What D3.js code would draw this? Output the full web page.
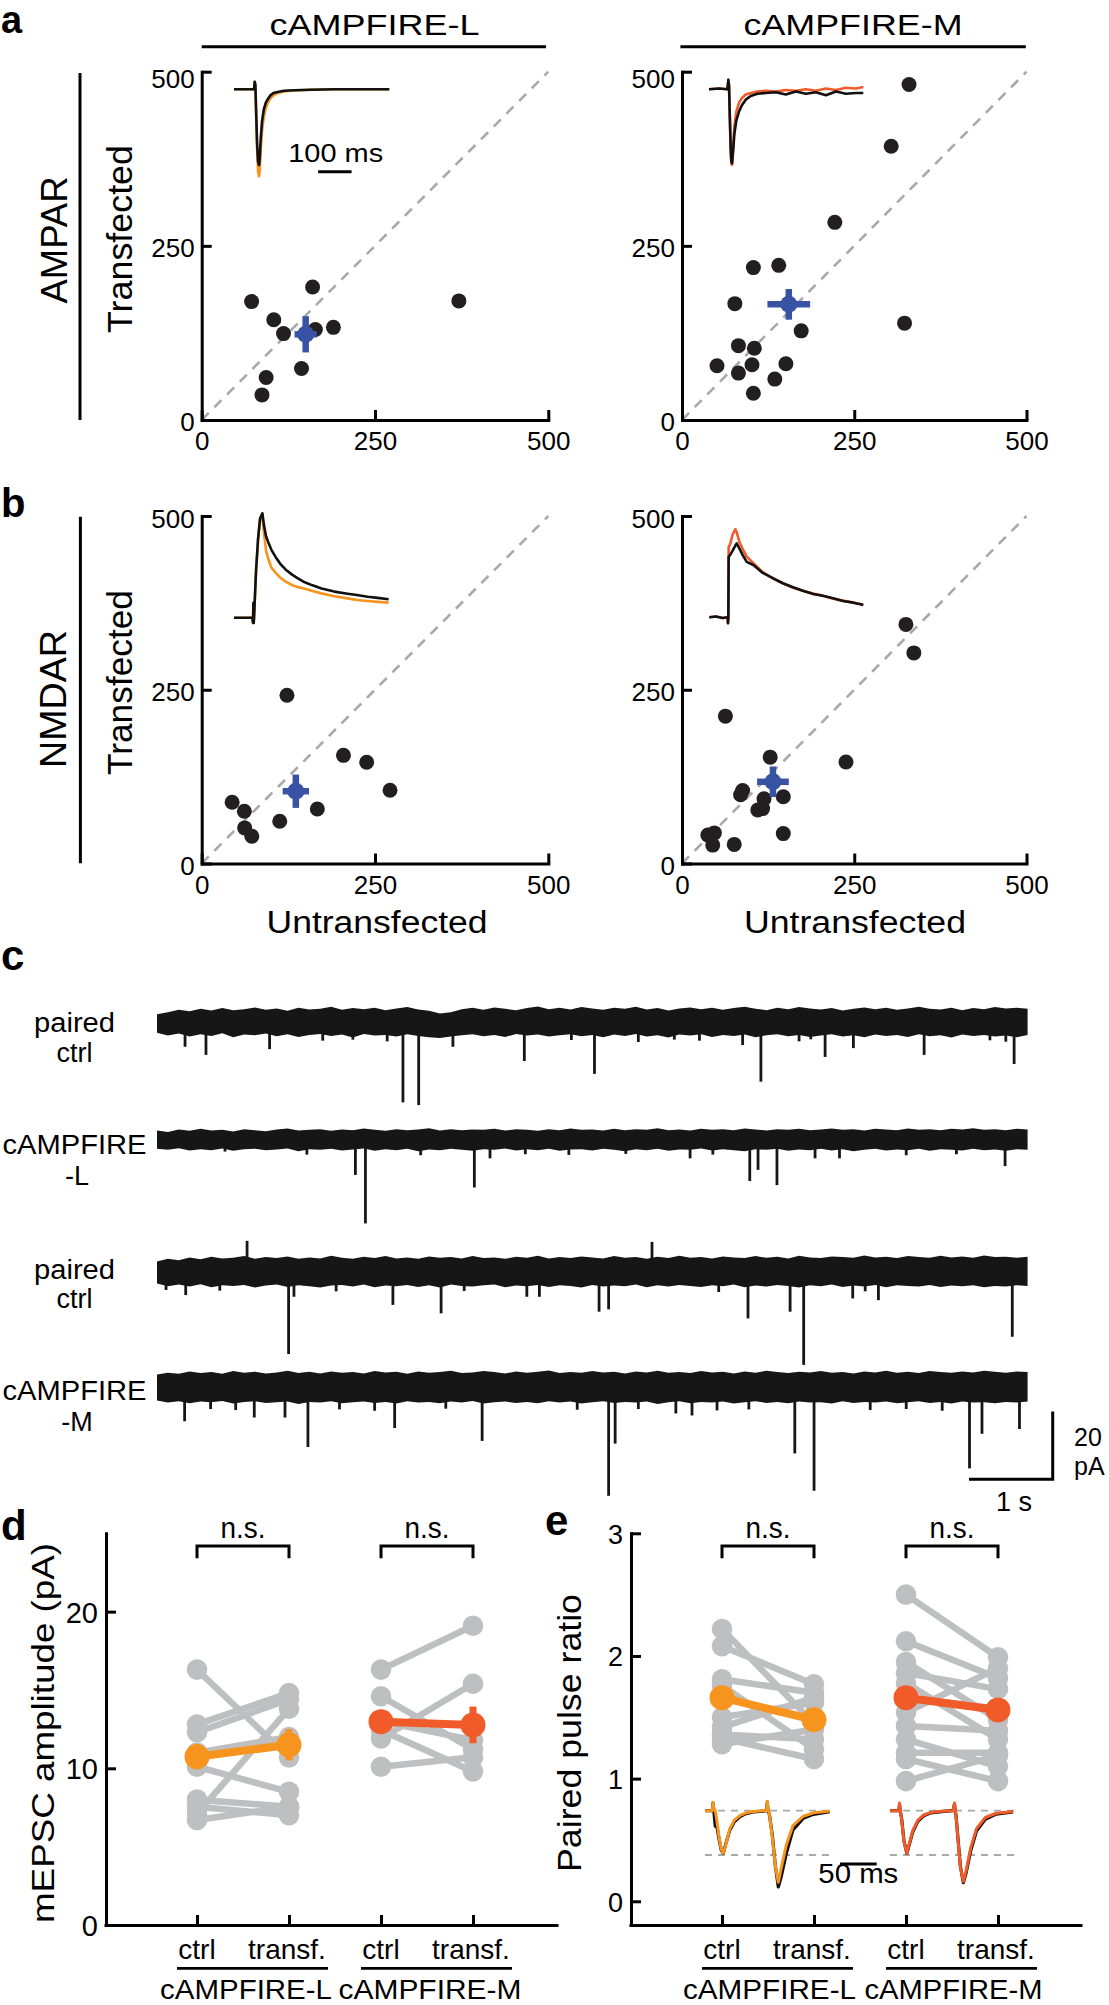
<!DOCTYPE html>
<html><head><meta charset="utf-8">
<script src="https://cdn.jsdelivr.net/npm/d3@7"></script>
<style>
body{margin:0;background:#fff}
svg{display:block}
text{font-family:"Liberation Sans",Arial,Helvetica,sans-serif;fill:#000}
</style>
</head><body>
<svg id="fig" width="1109" height="2005"></svg>
<script>
// ---------------- DATA ----------------
const scatterTicks = [0, 250, 500];
const groups = ["cAMPFIRE-L", "cAMPFIRE-M"];
const rowLabels = ["AMPAR", "NMDAR"];

// panel a (AMPAR) : untransfected (x) vs transfected (y)
const ampaL_x = [72, 160, 104, 118, 164, 190, 144, 93, 87, 371];
const ampaL_y = [170, 191, 144, 124, 130, 133, 74, 61, 36, 171];
const ampaL_mean = [150, 123], ampaL_err = [16, 26];
const ampaM_x = [329.5, 303.6, 221.8, 103.6, 140.4, 76.7, 173, 323, 81.9, 105, 50.8, 101.6, 150.8, 81.9, 134.7, 103.6];
const ampaM_y = [481.7, 393, 283.7, 218.8, 222, 167, 128, 139, 106.7, 103, 77.9, 79.3, 80.8, 67.3, 58.7, 38.5];
const ampaM_mean = [155, 166], ampaM_err = [31, 22];
// panel b (NMDAR)
const nmdaL_x = [123, 204.5, 238, 271.7, 43.9, 61.5, 166.8, 112.6, 62, 72.3];
const nmdaL_y = [242, 155.6, 145.6, 105.4, 88.1, 75.2, 78.5, 60.8, 51.2, 39.3];
const nmdaL_mean = [135.8, 104], nmdaL_err = [19, 24];
const nmdaM_x = [325, 336.5, 63, 128, 238, 88, 85, 119, 147, 110, 117, 147, 37.5, 47, 44.6, 75.8];
const nmdaM_y = [344, 303, 212, 153, 146, 105, 99, 93, 96, 77, 79, 43, 41, 44, 26.5, 27.5];
const nmdaM_mean = [132, 117.6], nmdaM_err = [23, 22];

// inset average traces (time in ms, normalized current)
const aL_t = [0,40,60,62,64,66,69,72,75,77,80,84,89,95,101,109,118,130,150,180,230,300,400,465];
const aL_black = [0,0,0,0.1,0.06,-0.25,-0.7,-0.95,-1.0,-0.92,-0.65,-0.42,-0.27,-0.18,-0.13,-0.08,-0.05,-0.035,-0.02,-0.012,-0.005,0,0,0];
const aL_col = [0,0,0,0.1,0.06,-0.28,-0.78,-1.08,-1.15,-1.08,-0.8,-0.55,-0.37,-0.25,-0.18,-0.12,-0.08,-0.05,-0.03,-0.015,-0.006,0,0,0];
const aR_t = [0,30,55,58,60,62,65,67,69,72,76,82,90,98,110,125,145,170,200,230,260,290,320,350,380,410,440,462];
const aR_black = [0,0.01,0,0.13,0.05,-0.3,-0.8,-0.98,-1.0,-0.85,-0.6,-0.42,-0.3,-0.22,-0.14,-0.09,-0.06,-0.05,-0.04,-0.07,-0.03,-0.06,-0.04,-0.08,-0.03,-0.06,-0.05,-0.05];
const aR_col = [0,0.01,0,0.1,0.05,-0.35,-0.85,-1.0,-1.02,-0.8,-0.5,-0.3,-0.18,-0.12,-0.07,-0.05,-0.03,-0.02,-0.03,-0.01,-0.02,0,-0.02,0.01,-0.01,0.02,0.01,0.03];
const bL_t = [0,30,55,57,58,59,60,62,66,72,78,85,90,96,104,112,125,140,155,175,190,208,235,262,300,340,368,400,430,463];
const bL_black = [0,0,0,-0.05,0.14,-0.05,0,0.15,0.45,0.75,0.95,1.0,0.88,0.78,0.71,0.65,0.58,0.51,0.46,0.41,0.38,0.345,0.31,0.28,0.25,0.23,0.217,0.2,0.19,0.177];
const bL_col = [0,0,0,-0.05,0.14,-0.05,0,0.15,0.45,0.75,0.95,0.98,0.8,0.64,0.55,0.48,0.43,0.38,0.345,0.31,0.295,0.281,0.255,0.233,0.205,0.185,0.17,0.16,0.152,0.144];
const bR_t = [0,20,40,55,56,57,58,62,70,78,82,90,100,112,132,160,192,220,251,280,311,340,371,400,431,450,461];
const bR_black = [0,0.01,-0.01,0,-0.08,0,0.82,0.84,0.9,0.97,1.0,0.93,0.84,0.75,0.707,0.6,0.527,0.46,0.405,0.36,0.315,0.29,0.257,0.22,0.198,0.18,0.166];
const bR_col = [0,0.01,-0.01,0,-0.08,0,0.95,0.98,1.12,1.19,1.15,1.02,0.92,0.82,0.73,0.61,0.52,0.46,0.4,0.36,0.32,0.29,0.25,0.225,0.2,0.18,0.168];

// panel c : mEPSC recordings (noise envelope, evenly sampled over 10.4 s, pA; events: time s, amplitude pA)
const traceLabels = [["paired","ctrl"],["cAMPFIRE","-L"],["paired","ctrl"],["cAMPFIRE","-M"]];
const T1top = [2.0,2.6,3.3,2.9,3.6,3.1,3.8,3.2,3.5,4.0,3.3,3.7,3.0,3.9,3.4,3.6,4.2,3.3,3.8,3.5,3.9,3.2,3.7,4.1,3.4,3.0,2.2,2.6,3.5,3.9,3.3,4.0,3.6,3.2,3.8,4.3,3.5,3.9,3.4,4.1,3.7,3.3,3.9,3.6,4.2,3.4,3.8,3.1,3.7,4.0,3.5,3.9,3.3,3.8,4.2,3.6,3.2,3.9,3.5,4.1,3.7,3.4,3.8,3.1,3.6,4.0,3.5,3.9,3.3,3.7,4.2,3.6,3.4,3.9,3.2,3.8,3.5,4.1,3.7,3.9,3.6];
const T1bot = [-3.5,-4.3,-3.7,-4.6,-3.9,-4.4,-3.6,-4.8,-4.0,-4.2,-3.7,-4.5,-3.9,-4.7,-4.1,-3.8,-4.4,-4.0,-4.9,-3.8,-4.3,-4.1,-4.6,-3.9,-4.4,-4.8,-5.0,-4.6,-4.2,-3.9,-4.5,-4.1,-4.7,-3.8,-4.3,-4.0,-4.6,-4.2,-3.9,-4.5,-4.1,-4.8,-4.0,-4.4,-3.8,-4.6,-4.2,-4.9,-4.0,-4.3,-3.9,-4.7,-4.1,-4.4,-4.0,-4.8,-4.2,-3.9,-4.5,-4.1,-4.7,-4.3,-3.9,-4.6,-4.2,-4.8,-4.0,-4.4,-4.1,-4.7,-3.9,-4.5,-4.2,-4.9,-4.0,-4.4,-4.1,-4.6,-4.3,-4.8,-4.1];
const T2top = [2.5,2.1,2.8,2.4,3.0,2.5,2.7,2.2,2.9,2.6,2.3,2.8,3.1,2.5,2.7,2.9,2.4,2.8,2.6,3.1,2.7,2.4,2.9,2.6,2.8,3.2,2.5,2.9,2.6,2.8,2.7,3.0,2.5,2.9,2.7,2.4,2.9,2.6,3.1,2.7,2.8,2.5,3.0,2.6,2.9,2.7,3.2,2.6,2.8,2.5,3.0,2.7,2.9,2.6,3.1,2.8,2.5,2.9,2.7,3.0,2.6,2.8,3.1,2.7,2.9,2.5,3.0,2.8,2.6,3.1,2.7,2.9,2.6,3.0,2.8,3.2,2.7,2.9,2.6,3.0,2.8];
const T2bot = [-2.9,-3.2,-2.7,-3.4,-3.0,-3.3,-2.8,-3.5,-3.0,-2.9,-3.3,-3.1,-2.8,-3.6,-3.0,-3.2,-2.9,-3.4,-3.1,-2.8,-3.5,-3.0,-3.3,-2.9,-3.6,-3.1,-3.3,-2.9,-3.2,-3.5,-3.0,-3.2,-2.8,-3.4,-3.0,-3.3,-2.9,-3.5,-3.1,-3.0,-3.4,-2.9,-3.2,-3.6,-3.0,-3.3,-2.9,-3.5,-3.1,-3.2,-2.8,-3.4,-3.0,-3.3,-3.6,-3.0,-3.2,-2.9,-3.5,-3.1,-3.3,-2.9,-3.4,-3.0,-3.6,-3.2,-2.9,-3.4,-3.1,-3.3,-2.9,-3.5,-3.0,-3.2,-3.4,-2.9,-3.3,-3.1,-3.5,-3.0,-3.2];
const T3top = [2.8,3.6,3.2,4.0,3.5,4.2,3.7,3.9,4.4,3.6,4.1,3.8,4.3,3.6,4.0,3.7,4.5,3.9,3.6,4.2,3.8,4.4,3.7,4.0,3.6,4.3,3.9,4.1,3.7,4.4,3.8,4.0,3.6,4.2,3.9,4.5,3.7,4.1,3.8,4.3,4.0,3.7,4.4,3.9,4.1,3.6,4.2,3.8,4.5,3.9,4.1,3.7,4.3,4.0,3.8,4.4,3.9,4.2,3.7,4.5,4.0,3.8,4.3,4.1,3.9,4.6,4.0,4.2,3.8,4.4,4.1,3.9,4.5,4.0,4.3,3.9,4.6,4.1,4.2,3.9,4.2];
const T3bot = [-3.7,-4.5,-4.0,-4.6,-3.9,-4.8,-4.2,-4.4,-4.1,-4.9,-4.3,-4.0,-4.7,-4.2,-4.5,-4.9,-4.3,-4.1,-4.6,-4.0,-4.8,-4.3,-4.5,-4.1,-4.7,-4.2,-4.9,-4.0,-4.4,-4.6,-4.2,-4.0,-4.8,-4.3,-4.5,-4.1,-4.7,-4.2,-4.4,-4.9,-4.1,-4.6,-4.3,-4.5,-4.0,-4.8,-4.2,-4.6,-4.1,-4.4,-4.7,-4.2,-4.5,-4.0,-4.8,-4.3,-4.6,-4.1,-4.4,-4.9,-4.2,-4.5,-4.0,-4.7,-4.3,-4.6,-4.1,-4.8,-4.2,-4.4,-4.6,-4.1,-4.7,-4.3,-4.5,-4.2,-4.8,-4.4,-4.6,-4.2,-4.4];
const T4top = [3.7,4.2,3.9,4.6,4.1,4.4,3.9,4.7,4.2,4.5,4.0,4.3,4.8,4.1,4.5,4.0,4.6,4.2,4.4,4.0,4.7,4.3,4.5,3.9,4.6,4.2,4.4,4.8,4.1,4.3,4.7,4.4,4.0,4.6,4.2,4.5,4.9,4.1,4.4,4.2,4.7,4.3,4.5,4.0,4.6,4.3,4.8,4.2,4.4,4.1,4.7,4.3,4.5,4.0,4.6,4.2,4.8,4.4,4.1,4.5,4.3,4.7,4.2,4.4,4.0,4.6,4.3,4.8,4.2,4.5,4.1,4.7,4.4,4.2,4.6,4.3,4.8,4.5,4.2,4.6,4.4];
const T4bot = [-4.0,-4.6,-4.2,-4.8,-4.3,-4.5,-4.1,-4.9,-4.4,-4.2,-4.7,-4.5,-4.3,-5.0,-4.4,-4.6,-4.2,-4.8,-4.5,-4.3,-4.7,-4.4,-4.9,-4.2,-4.6,-4.4,-4.8,-4.3,-4.6,-4.1,-4.9,-4.5,-4.3,-4.7,-4.4,-4.8,-4.2,-4.6,-4.3,-4.9,-4.5,-4.2,-4.7,-4.4,-4.6,-4.3,-5.0,-4.5,-4.2,-4.8,-4.4,-4.6,-4.3,-4.9,-4.5,-4.2,-4.7,-4.4,-4.8,-4.3,-4.6,-4.5,-4.9,-4.2,-4.7,-4.4,-4.6,-4.3,-4.8,-4.5,-4.2,-4.7,-4.4,-4.9,-4.3,-4.6,-4.5,-4.8,-4.4,-4.6,-4.3];
const T1evT = [0.335,0.585,1.345,1.98,2.34,2.75,2.938,3.126,3.535,4.388,4.95,5.226,5.75,6.18,6.48,6.996,7.214,7.67,7.81,7.981,8.319,9.164,9.95,10.14,10.239];
const T1evA = [7.6,10.0,8.3,5.8,5.5,6.0,24.0,24.8,7.6,11.8,5.6,15.6,6.2,5.5,5.8,7.1,17.9,6.0,5.4,10.6,8.0,10.0,5.7,6.1,12.7];
const T2evT = [0.812,1.79,2.370,2.490,3.15,3.791,3.978,4.40,4.92,5.6,6.368,6.64,7.081,7.180,7.406,7.861,8.153,8.95,9.55,10.131];
const T2evA = [3.7,4.6,10.6,24.9,4.8,14.3,5.7,4.5,4.7,4.4,5.7,4.6,12.4,9.1,13.6,5.7,5.7,4.8,4.5,8.0];
const T3evT = [0.108,0.343,0.75,1.076,1.572,1.636,2.14,2.818,3.394,3.67,4.418,4.568,5.281,5.395,5.913,6.71,7.060,7.563,7.725,8.311,8.46,8.618,10.217];
const T3evA = [5.6,7.1,5.8,-8.9,24.5,7.6,6.0,10.0,12.5,5.9,7.6,7.6,12.0,11.3,-8.6,6.2,14.0,12.0,27.7,8.1,6.0,8.6,19.4];
const T4evT = [0.330,0.64,0.94,1.162,1.529,1.803,2.18,2.6,2.839,3.45,3.884,5.02,5.395,5.473,5.75,6.198,6.391,6.69,7.07,7.619,7.849,8.52,8.95,9.38,9.706,9.855,10.303];
const T4evA = [10.1,6.5,6.8,9.0,9.0,17.7,6.6,7.0,12.1,6.4,15.9,6.7,32.1,16.7,6.5,7.8,8.4,6.9,6.6,19.6,30.6,6.8,6.5,7.0,24.0,13.8,12.4];

// panel d : mEPSC amplitude (pA)
const catLabels = ["ctrl", "transf."];
const dTicks = [0, 10, 20];
const dL_ctrl = [16.3, 12.8, 12.3, 11.0, 10.1, 8.0, 7.55, 7.1, 6.7];
const dL_tr   = [10.7, 14.8, 14.4, 12.0, 8.5, 7.55, 7.0, 13.8, 7.55];
const dM_ctrl = [16.3, 14.6, 13.0, 12.45, 11.9, 10.1];
const dM_tr   = [19.1, 11.2, 11.8, 9.8, 15.4, 10.7];
const dMeans = [[10.74, 11.5], [12.98, 12.77]];
const dErrs  = [[0.8, 1.0], [0.5, 1.17]];
// panel e : paired pulse ratio
const eTicks = [0, 1, 2, 3];
const eL_ctrl = [2.22, 2.08, 1.81, 1.76, 1.50, 1.42, 1.36, 1.28, 1.33];
const eL_tr   = [1.45, 1.77, 1.70, 1.24, 1.62, 1.66, 1.32, 1.40, 1.16];
const eM_ctrl = [2.50, 2.12, 1.95, 1.86, 1.78, 1.54, 1.43, 1.32, 1.21, 1.16, 0.98, 1.66];
const eM_tr   = [1.99, 1.82, 1.48, 1.73, 1.32, 1.90, 1.39, 1.10, 1.21, 0.98, 1.19, 1.57];
const eMeans = [[1.66, 1.48], [1.66, 1.56]];
const eErrs  = [[0.07, 0.06], [0.08, 0.06]];
// paired-pulse inset traces (ms, normalized)
const eL_t = [0,10,11,12,14,16,19,22,25,28,34,40,48,56,66,80,84,85,86,88,92,96,100,104,111,120,134,148,170];
const eL_black = [0,0,0.18,0,-0.37,-0.35,-0.65,-0.92,-1.0,-0.8,-0.45,-0.26,-0.14,-0.07,-0.03,-0.01,0,0.2,0,-0.1,-0.6,-1.3,-1.79,-1.55,-1.0,-0.45,-0.18,-0.085,-0.02];
const eL_col = [0,0,0.2,0.05,0,-0.2,-0.6,-0.9,-1.0,-0.82,-0.42,-0.22,-0.11,-0.05,-0.02,0,0,0.22,0.05,-0.1,-0.65,-1.3,-1.68,-1.35,-0.8,-0.35,-0.13,-0.05,-0.01];
const eR_t = [0,12,13,14,16,19,23,26,31,38,46,56,70,86,88,89,90,93,96,100,104,110,118,130,145,168];
const eR_black = [0,0,0.15,0,-0.2,-0.7,-1.0,-0.82,-0.5,-0.25,-0.12,-0.05,-0.02,0,0.15,0,-0.1,-0.7,-1.3,-1.69,-1.45,-0.95,-0.48,-0.2,-0.08,-0.03];
const eR_col = [0,0,0.18,0.02,-0.22,-0.72,-1.0,-0.8,-0.47,-0.22,-0.1,-0.04,-0.01,0,0.18,0.02,-0.1,-0.72,-1.32,-1.66,-1.4,-0.88,-0.42,-0.16,-0.06,-0.02];

// ---------------- STYLE ----------------
const FONT = '"Liberation Sans", Arial, Helvetica, sans-serif';
const ORANGE = "#F7941D", RED = "#F15A29", BLUE = "#3953A4", GRAY = "#BEBFC1", DOT = "#231F20";

const svg = d3.select("#fig");
svg.append("rect").attr("width", 1109).attr("height", 2005).attr("fill", "#fff");

function txt(g, s, x, y, o = {}) {
  const t = g.append("text").attr("x", x).attr("y", y).text(s)
    .attr("font-size", o.size || 26)
    .attr("text-anchor", o.anchor || "middle")
    .attr("font-weight", o.bold ? "bold" : "normal");
  if (o.len) t.attr("textLength", o.len).attr("lengthAdjust", "spacingAndGlyphs");
  if (o.rot) t.attr("transform", `rotate(${o.rot},${x},${y})`);
  return t;
}
function hline(g, x1, x2, y, w = 3) {
  g.append("line").attr("x1", x1).attr("x2", x2).attr("y1", y).attr("y2", y)
    .attr("stroke", "#000").attr("stroke-width", w);
}
function styleAxis(a, fs) {
  a.attr("font-family", FONT).attr("font-size", fs);
  a.select(".domain").attr("stroke", "#000").attr("stroke-width", 3).attr("stroke-linecap", "square");
  a.selectAll(".tick line").attr("stroke", "#000").attr("stroke-width", 3);
  a.selectAll(".tick text").attr("fill", "#000");
}

// ---------------- PANELS a & b ----------------
function scatterPanel(c) {
  const g = svg.append("g");
  const x = d3.scaleLinear().domain([0, 500]).range([c.x0, c.x1]);
  const y = d3.scaleLinear().domain([0, 500]).range([c.y0, c.y1]);
  g.append("line").attr("x1", x(0)).attr("y1", y(0)).attr("x2", x(500)).attr("y2", y(500))
    .attr("stroke", "#A7A9AC").attr("stroke-width", 2.6).attr("stroke-dasharray", "10,8");
  const ax = g.append("g").attr("transform", `translate(0,${c.y0})`)
    .call(d3.axisBottom(x).tickValues(scatterTicks).tickSizeInner(-10).tickSizeOuter(0).tickPadding(12));
  const ay = g.append("g").attr("transform", `translate(${c.x0},0)`)
    .call(d3.axisLeft(y).tickValues(scatterTicks).tickSizeInner(-10).tickSizeOuter(0).tickPadding(7));
  styleAxis(ax, 26); styleAxis(ay, 26);
  ay.selectAll(".tick text").attr("dy", d => d === 500 ? (c.topShift || "0.45em") : "0.42em");

  // inset average traces
  const it = d3.scaleLinear().domain([0, 100]).range([c.ins.ox, c.ins.ox + 33.4]);
  const iv = d3.scaleLinear().domain([0, 1]).range([c.ins.base, c.ins.base - c.ins.amp]);
  const ln = d3.line().x(d => it(d[0])).y(d => iv(d[1]));
  [[c.ins.col, c.ins.colColor], [c.ins.black, "#111"]].forEach(([vals, col]) => {
    g.append("path").datum(c.ins.t.map((t, i) => [t, vals[i]])).attr("d", ln)
      .attr("fill", "none").attr("stroke", col).attr("stroke-width", 2.6).attr("stroke-linejoin", "round");
  });
  if (c.scaleBar) {
    g.append("line").attr("x1", it(252)).attr("x2", it(352)).attr("y1", 171.7).attr("y2", 171.7)
      .attr("stroke", "#000").attr("stroke-width", 3);
    txt(g, "100 ms", 335.7, 161.7, { size: 26, len: 95 });
  }
  // points
  g.selectAll("circle.pt").data(c.xs.map((v, i) => [v, c.ys[i]])).enter().append("circle")
    .attr("cx", d => x(d[0])).attr("cy", d => y(d[1])).attr("r", 7.5).attr("fill", DOT);
  // mean +- sem
  const [mx, my] = c.mean, [ex, ey] = c.err;
  g.append("line").attr("x1", x(mx - ex)).attr("x2", x(mx + ex)).attr("y1", y(my)).attr("y2", y(my))
    .attr("stroke", BLUE).attr("stroke-width", 6.5);
  g.append("line").attr("x1", x(mx)).attr("x2", x(mx)).attr("y1", y(my - ey)).attr("y2", y(my + ey))
    .attr("stroke", BLUE).attr("stroke-width", 6.5);
  g.append("circle").attr("cx", x(mx)).attr("cy", y(my)).attr("r", 8.5).attr("fill", BLUE);
  return g;
}

scatterPanel({ x0: 201.7, x1: 548.3, y0: 420, y1: 71.7, xs: ampaL_x, ys: ampaL_y, mean: ampaL_mean, err: ampaL_err,
  topShift: "0.6em", scaleBar: true,
  ins: { ox: 234, base: 89.3, amp: 75.7, t: aL_t, black: aL_black, col: aL_col, colColor: ORANGE } });
scatterPanel({ x0: 682, x1: 1026.5, y0: 420, y1: 71.7, xs: ampaM_x, ys: ampaM_y, mean: ampaM_mean, err: ampaM_err,
  topShift: "0.6em",
  ins: { ox: 709, base: 89.3, amp: 74, t: aR_t, black: aR_black, col: aR_col, colColor: RED } });
scatterPanel({ x0: 201.7, x1: 548.3, y0: 863.5, y1: 516, xs: nmdaL_x, ys: nmdaL_y, mean: nmdaL_mean, err: nmdaL_err,
  ins: { ox: 234, base: 617.7, amp: 104.4, t: bL_t, black: bL_black, col: bL_col, colColor: ORANGE } });
scatterPanel({ x0: 682, x1: 1026.5, y0: 863.5, y1: 516, xs: nmdaM_x, ys: nmdaM_y, mean: nmdaM_mean, err: nmdaM_err,
  ins: { ox: 709.3, base: 617.3, amp: 74, t: bR_t, black: bR_black, col: bR_col, colColor: RED } });

const gTop = svg.append("g");
// column headers
txt(gTop, groups[0], 374.5, 34.5, { size: 30, len: 210 });
hline(gTop, 201.7, 546, 46.7);
txt(gTop, groups[1], 853, 34.5, { size: 30, len: 219 });
hline(gTop, 680.4, 1025.8, 46.7);
// row labels
txt(gTop, rowLabels[0], 67, 240, { size: 36, rot: -90, len: 127 });
gTop.append("line").attr("x1", 80).attr("x2", 80).attr("y1", 73).attr("y2", 420).attr("stroke", "#000").attr("stroke-width", 3);
txt(gTop, rowLabels[1], 66, 699, { size: 36, rot: -90, len: 138 });
gTop.append("line").attr("x1", 80.4).attr("x2", 80.4).attr("y1", 516.7).attr("y2", 863.3).attr("stroke", "#000").attr("stroke-width", 3);
txt(gTop, "Transfected", 132, 239, { size: 35, rot: -90, len: 188 });
txt(gTop, "Transfected", 132, 682.5, { size: 35, rot: -90, len: 185 });
txt(gTop, "Untransfected", 377, 933, { size: 31, len: 221 });
txt(gTop, "Untransfected", 855, 933, { size: 31, len: 222 });
// panel letters
txt(gTop, "a", 1, 33, { size: 38, bold: true, anchor: "start" });
txt(gTop, "b", 1, 517, { size: 40, bold: true, anchor: "start" });
txt(gTop, "c", 1, 970, { size: 42, bold: true, anchor: "start" });
txt(gTop, "d", 1, 1540, { size: 42, bold: true, anchor: "start" });
txt(gTop, "e", 545, 1535, { size: 42, bold: true, anchor: "start" });

// ---------------- PANEL c ----------------
const gc = svg.append("g");
const tx = d3.scaleLinear().domain([0, 10.4]).range([157, 1027.6]);
const PX_PER_PA = 3.39;
const traces = [
  { center: 1021, top: T1top, bot: T1bot, evT: T1evT, evA: T1evA, lab: [1031.7, 1062.3] },
  { center: 1139, top: T2top, bot: T2bot, evT: T2evT, evA: T2evA, lab: [1154, 1185] },
  { center: 1271, top: T3top, bot: T3bot, evT: T3evT, evA: T3evA, lab: [1279.3, 1308.3] },
  { center: 1387, top: T4top, bot: T4bot, evT: T4evT, evA: T4evA, lab: [1400, 1431] }
];
let lastY = null;
traces.forEach((tr, k) => {
  const y = d3.scaleLinear().domain([-40, 40]).range([tr.center + 40 * PX_PER_PA, tr.center - 40 * PX_PER_PA]);
  lastY = y;
  const dt = 10.4 / (tr.top.length - 1);
  const area = d3.area().x((d, i) => tx(i * dt)).y0(d => y(d[1])).y1(d => y(d[0]));
  gc.append("path").datum(tr.top.map((v, i) => [v, tr.bot[i]])).attr("d", area).attr("fill", "#161616");
  tr.evT.forEach((t, i) => {
    gc.append("line").attr("x1", tx(t)).attr("x2", tx(t)).attr("y1", y(0)).attr("y2", y(-tr.evA[i]))
      .attr("stroke", "#161616").attr("stroke-width", 2.8);
  });
  const L = traceLabels[k];
  txt(gc, L[0], 74.5, tr.lab[0], { size: 27, len: L[0] === "cAMPFIRE" ? 144 : 81 });
  txt(gc, L[1], L[1].startsWith("-") ? 77 : 74.5, tr.lab[1], { size: 27 });
});
// scale bar (1 s, 20 pA)
gc.append("path")
  .attr("d", `M${tx(9.7)},${lastY(-27.2)}H${tx(10.7)}V${lastY(-7.2)}`)
  .attr("fill", "none").attr("stroke", "#000").attr("stroke-width", 3);
txt(gc, "20", 1074, 1446, { size: 25, anchor: "start" });
txt(gc, "pA", 1074, 1475, { size: 25, anchor: "start" });
txt(gc, "1 s", 1014, 1510.7, { size: 27 });

// ---------------- PANELS d & e ----------------
function pairedPanel(c) {
  const g = svg.append("g");
  const y = d3.scaleLinear().domain(c.ydom).range([1925, 1533.3]);
  const xp = d3.scalePoint().domain([0, 1, 2, 3]).range([c.xs0, c.xs0 + 276]);
  const ay = g.append("g").attr("transform", `translate(${c.ax},0)`)
    .call(d3.axisLeft(y).tickValues(c.ticks).tickFormat(d3.format("d")).tickSizeInner(-10).tickSizeOuter(0).tickPadding(8));
  styleAxis(ay, c.tickSize);
  ay.selectAll(".tick text").attr("dy", "0.36em");
  const axb = g.append("g").attr("transform", "translate(0,1925)")
    .call(d3.axisBottom(xp).tickSizeInner(-10).tickSizeOuter(0).tickFormat(() => ""));
  styleAxis(axb, 10);
  axb.select(".domain").remove();
  g.append("line").attr("x1", c.ax).attr("x2", c.axEnd).attr("y1", 1925.5).attr("y2", 1925.5)
    .attr("stroke", "#000").attr("stroke-width", 3).attr("stroke-linecap", "square");

  // brackets + n.s. + category labels
  [0, 1].forEach(k => {
    const a = xp(2 * k), b = xp(2 * k + 1);
    g.append("path").attr("d", `M${a},1558.3V1546H${b}V1558.3`).attr("fill", "none")
      .attr("stroke", "#000").attr("stroke-width", 3);
    txt(g, "n.s.", (a + b) / 2, 1538.3, { size: 30, len: 45 });
    txt(g, catLabels[0], a, 1958.6, { size: 28 });
    txt(g, catLabels[1], b - 2, 1958.6, { size: 28 });
    hline(g, a - 20, b + 39, 1968.4, 2.6);
    txt(g, groups[k], (a + b) / 2 + c.gOff, 1999, { size: 28, len: c.gLen[k] });
  });
  // individual pairs
  const sets = [[c.L[0], c.L[1]], [c.M[0], c.M[1]]];
  sets.forEach((s, k) => {
    const a = xp(2 * k), b = xp(2 * k + 1);
    s[0].forEach((v, i) => {
      g.append("line").attr("x1", a).attr("x2", b).attr("y1", y(v)).attr("y2", y(s[1][i]))
        .attr("stroke", GRAY).attr("stroke-width", 6.5);
    });
    s[0].forEach((v, i) => {
      g.append("circle").attr("cx", a).attr("cy", y(v)).attr("r", 10.3).attr("fill", GRAY);
      g.append("circle").attr("cx", b).attr("cy", y(s[1][i])).attr("r", 10.3).attr("fill", GRAY);
    });
  });
  // means
  [ORANGE, RED].forEach((col, k) => {
    const a = xp(2 * k), b = xp(2 * k + 1);
    const m = c.means[k], e = c.errs[k];
    g.append("line").attr("x1", a).attr("x2", b).attr("y1", y(m[0])).attr("y2", y(m[1]))
      .attr("stroke", col).attr("stroke-width", 8);
    [a, b].forEach((xx, j) => {
      g.append("line").attr("x1", xx).attr("x2", xx).attr("y1", y(m[j] - e[j])).attr("y2", y(m[j] + e[j]))
        .attr("stroke", col).attr("stroke-width", 7);
      g.append("circle").attr("cx", xx).attr("cy", y(m[j])).attr("r", 12.5).attr("fill", col);
    });
  });
  return { g, y };
}

const pd = pairedPanel({ ydom: [0, 25], ticks: dTicks, tickSize: 29, ax: 106, axEnd: 557, xs0: 197,
  L: [dL_ctrl, dL_tr], M: [dM_ctrl, dM_tr], means: dMeans, errs: dErrs, gOff: 3, gLen: [172, 183] });
txt(pd.g, "mEPSC amplitude (pA)", 54, 1733, { size: 32, rot: -90, len: 380 });

const pe = pairedPanel({ ydom: [-0.1933, 3], ticks: eTicks, tickSize: 27, ax: 631, axEnd: 1081, xs0: 722,
  L: [eL_ctrl, eL_tr], M: [eM_ctrl, eM_tr], means: eMeans, errs: eErrs, gOff: 1.5, gLen: [173, 178] });
txt(pe.g, "Paired pulse ratio", 581, 1733, { size: 33, rot: -90, len: 278 });

// paired-pulse inset traces
function ppInset(ox, t, black, col, colColor) {
  const g = pe.g;
  const it = d3.scaleLinear().domain([0, 50]).range([ox, ox + 36.65]);
  const iv = d3.scaleLinear().domain([0, 1]).range([1810.7, 1810.7 - 42.6]);
  [0, -1.04].forEach(v => {
    g.append("line").attr("x1", ox).attr("x2", it(170)).attr("y1", iv(v)).attr("y2", iv(v))
      .attr("stroke", "#A7A9AC").attr("stroke-width", 1.8).attr("stroke-dasharray", "7,6");
  });
  const ln = d3.line().x(d => it(d[0])).y(d => iv(d[1]));
  g.append("path").datum(t.map((tt, i) => [tt, black[i]])).attr("d", ln)
    .attr("fill", "none").attr("stroke", "#111").attr("stroke-width", 3.2).attr("stroke-linejoin", "round");
  g.append("path").datum(t.map((tt, i) => [tt, col[i]])).attr("d", ln)
    .attr("fill", "none").attr("stroke", colColor).attr("stroke-width", 3).attr("stroke-linejoin", "round");
  return it;
}
ppInset(705, eL_t, eL_black, eL_col, ORANGE);
ppInset(890, eR_t, eR_black, eR_col, RED);
pe.g.append("line").attr("x1", 840).attr("x2", 876.7).attr("y1", 1864).attr("y2", 1864)
  .attr("stroke", "#000").attr("stroke-width", 3);
txt(pe.g, "50 ms", 858.3, 1883.3, { size: 27, len: 80 });
</script>
</body></html>
